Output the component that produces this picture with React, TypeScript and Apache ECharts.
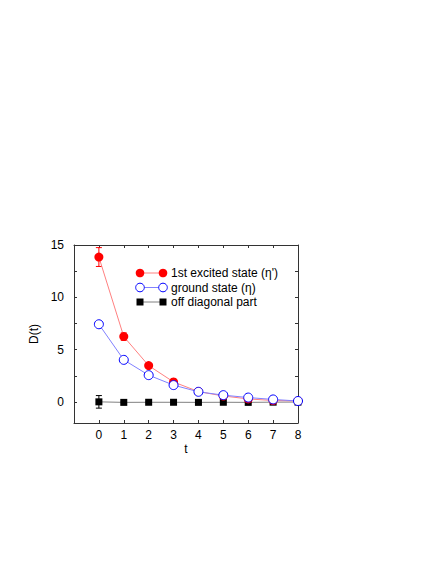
import React, { useEffect, useRef } from "react";
import * as echarts from "echarts";

const tValues = [0, 1, 2, 3, 4, 5, 6, 7, 8];
const excited = [13.85, 6.25, 3.48, 1.92, 1.0, 0.58, 0.3, 0.15, 0.1];
const excitedErr = [0.9, 0.35, 0.1, 0.08, 0.05, 0.03, 0.02, 0.02, 0.02];
const ground = [7.43, 4.03, 2.57, 1.62, 0.98, 0.66, 0.43, 0.25, 0.1];
const offDiag = [0.02, -0.03, -0.02, -0.02, -0.03, -0.02, -0.03, -0.01, 0.0];
const offDiagErr = [0.6, 0.05, 0.05, 0.05, 0.05, 0.05, 0.05, 0.05, 0.05];
const xTicks = [0, 1, 2, 3, 4, 5, 6, 7, 8];
const yTicks = [0, 5, 10, 15];
const yTickMarks = [0, 2.5, 5, 7.5, 10, 12.5, 15];
const legendNames = ["1st excited state (\u03b7')", "ground state (\u03b7)", "off diagonal part"];

const FONT = "Liberation Sans, Arial, Helvetica, sans-serif";

function errSeries(vals: number[], errs: number[], color: string) {
  return {
    type: "custom",
    xAxisIndex: 0,
    yAxisIndex: 0,
    silent: true,
    z: 1,
    data: tValues.map((t, i) => [t, vals[i] - errs[i], vals[i] + errs[i]]),
    renderItem: (params: any, api: any) => {
      const lo = api.coord([api.value(0), api.value(1)]);
      const hi = api.coord([api.value(0), api.value(2)]);
      const w = 3;
      const st = { stroke: color, lineWidth: 1 };
      return {
        type: "group",
        children: [
          { type: "line", shape: { x1: lo[0], y1: lo[1], x2: hi[0], y2: hi[1] }, style: st },
          { type: "line", shape: { x1: lo[0] - w, y1: lo[1], x2: lo[0] + w, y2: lo[1] }, style: st },
          { type: "line", shape: { x1: hi[0] - w, y1: hi[1], x2: hi[0] + w, y2: hi[1] }, style: st },
        ],
      };
    },
  };
}

export default function App() {
  const ref = useRef<HTMLDivElement>(null);
  useEffect(() => {
    document.body.style.margin = "0";
    const chart = echarts.init(ref.current!, null, { renderer: "svg" });
    const axisCommon = {
      axisLine: { onZero: false, lineStyle: { color: "#333", width: 1 } },
      splitLine: { show: false },
    };
    const legendY = [273, 287.5, 302];
    const lx1 = 140, lx2 = 163;
    const legendGraphics: any[] = [];
    const lineCols = ["#ff8080", "#8080ff", "#808080"];
    legendY.forEach((y, i) => {
      legendGraphics.push({ type: "line", shape: { x1: lx1, y1: y, x2: lx2, y2: y }, style: { stroke: lineCols[i], lineWidth: 1 } });
      [lx1, lx2].forEach((x) => {
        if (i === 0) legendGraphics.push({ type: "circle", shape: { cx: x, cy: y, r: 4.3 }, style: { fill: "#ff0000" } });
        else if (i === 1) legendGraphics.push({ type: "circle", shape: { cx: x, cy: y, r: 4.3 }, style: { fill: "#fff", stroke: "#0000ff", lineWidth: 1 } });
        else legendGraphics.push({ type: "rect", shape: { x: x - 3.5, y: y - 3.5, width: 7, height: 7 }, style: { fill: "#000" } });
      });
      legendGraphics.push({
        type: "text",
        x: 171,
        y,
        style: { text: legendNames[i], fill: "#000", font: `12px ${FONT}`, verticalAlign: "middle", align: "left" },
      });
    });

    chart.setOption({
      animation: false,
      backgroundColor: "#fff",
      grid: { left: 74, top: 245, width: 224, height: 178, containLabel: false },
      xAxis: [
        {
          type: "value",
          min: -1,
          max: 8,
          position: "bottom",
          ...axisCommon,
          axisTick: { inside: true, length: 3, customValues: xTicks, lineStyle: { color: "#333" } },
          axisLabel: { customValues: xTicks, color: "#000", fontSize: 12, fontFamily: FONT, margin: 6 },
          name: "t",
          nameLocation: "middle",
          nameGap: 20,
          nameTextStyle: { color: "#000", fontSize: 12, fontFamily: FONT },
        },
        {
          type: "value",
          min: -1,
          max: 8,
          position: "top",
          ...axisCommon,
          axisTick: { inside: true, length: 3, customValues: xTicks, lineStyle: { color: "#333" } },
          axisLabel: { show: false },
        },
      ],
      yAxis: [
        {
          type: "value",
          min: -2,
          max: 15,
          position: "left",
          ...axisCommon,
          axisTick: { inside: true, length: 3, customValues: yTickMarks, lineStyle: { color: "#333" } },
          axisLabel: { customValues: yTicks, color: "#000", fontSize: 12, fontFamily: FONT, margin: 10 },
          name: "D(t)",
          nameLocation: "middle",
          nameGap: 26,
          nameRotate: 90,
          nameTextStyle: { color: "#000", fontSize: 12, fontFamily: FONT },
        },
        {
          type: "value",
          min: -2,
          max: 15,
          position: "right",
          ...axisCommon,
          axisTick: { inside: true, length: 3, customValues: yTickMarks, lineStyle: { color: "#333" } },
          axisLabel: { show: false },
        },
      ],
      series: [
        errSeries(offDiag, offDiagErr, "#000"),
        errSeries(excited, excitedErr, "#ff0000"),
        {
          type: "line",
          name: legendNames[2],
          data: tValues.map((t, i) => [t, offDiag[i]]),
          symbol: "rect",
          symbolSize: 7,
          itemStyle: { color: "#000" },
          lineStyle: { color: "#808080", width: 1 },
          z: 2,
        },
        {
          type: "line",
          name: legendNames[0],
          data: tValues.map((t, i) => [t, excited[i]]),
          symbol: "circle",
          symbolSize: 9,
          itemStyle: { color: "#ff0000", borderWidth: 0 },
          lineStyle: { color: "#ff8080", width: 1 },
          z: 3,
        },
        {
          type: "line",
          name: legendNames[1],
          data: tValues.map((t, i) => [t, ground[i]]),
          symbol: "circle",
          symbolSize: 9,
          itemStyle: { color: "#ffffff", borderColor: "#0000ff", borderWidth: 1 },
          lineStyle: { color: "#8080ff", width: 1 },
          z: 4,
        },
      ],
      graphic: legendGraphics,
    });
    return () => chart.dispose();
  }, []);
  return <div ref={ref} style={{ width: 434, height: 561 }} />;
}
